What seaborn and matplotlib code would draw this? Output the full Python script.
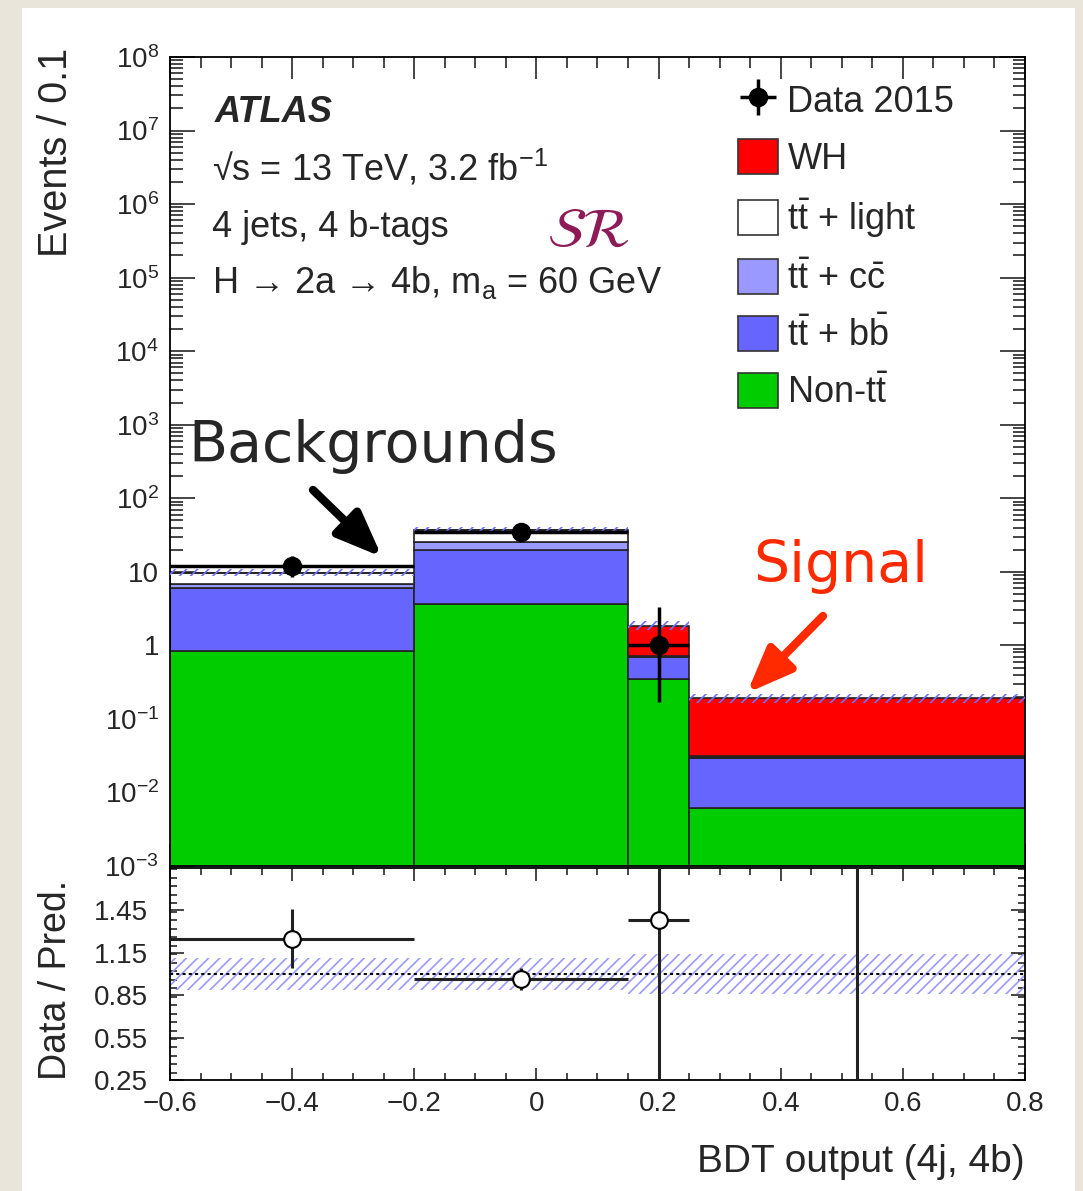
import numpy as np
import pandas as pd
import matplotlib
matplotlib.use("Agg")
import matplotlib.pyplot as plt
import seaborn as sns
from matplotlib.patches import Patch, Rectangle
from matplotlib.ticker import LogLocator, MultipleLocator, FixedLocator, FuncFormatter, NullFormatter

# bins of the BDT output
edges = [-0.6, -0.2, 0.15, 0.25, 0.8]
centers = [-0.4, -0.025, 0.2, 0.525]

# stacked predictions (events / 0.1)
wh = [0.02, 0.1, 1.13, 0.16]
tt_light = [3.0, 11.3, 0.01, 0.0005]
tt_cc = [0.7, 5.2, 0.015, 0.001]
tt_bb = [5.2, 16.5, 0.35, 0.0233]
non_tt = [0.85, 3.6, 0.35, 0.0062]
syst = [0.11, 0.11, 0.14, 0.14]

# data
data = [12, 35, 1, 0]
data_lo = [3.4, 5.9, 0.83, 0]
data_hi = [4.6, 7.0, 2.3, 1.84]

# ratio panel
ratio = [1.25, 0.965, 1.38, 0.0]
ratio_lo = [0.21, 0.08, 1.15, 0.0]
ratio_hi = [0.21, 0.08, 3.2, 5.0]

proc_order = ["WH", "light", "cc", "bb", "nontt"]
proc_vals = {"WH": wh, "light": tt_light, "cc": tt_cc, "bb": tt_bb, "nontt": non_tt}
proc_labels = {"WH": "WH", "light": r"t$\bar{\rm t}$ + light", "cc": r"t$\bar{\rm t}$ + c$\bar{\rm c}$",
               "bb": r"t$\bar{\rm t}$ + b$\bar{\rm b}$", "nontt": r"Non-t$\bar{\rm t}$"}
palette = {"WH": "#ff0000", "light": "#ffffff", "cc": "#9999ff", "bb": "#6666ff", "nontt": "#00cc00"}

sns.set_style("ticks")
plt.rcParams["font.family"] = ["Liberation Sans", "DejaVu Sans"]
plt.rcParams["mathtext.fontset"] = "custom"
plt.rcParams["mathtext.rm"] = "Liberation Sans"
plt.rcParams["mathtext.it"] = "Liberation Sans:italic"
plt.rcParams["mathtext.bf"] = "Liberation Sans:bold"
plt.rcParams["hatch.linewidth"] = 1.2

rows = []
for p in proc_order:
    for c, v in zip(centers, proc_vals[p]):
        rows.append({"x": c, "w": v, "process": p})
df = pd.DataFrame(rows)

W, H = 1083, 1191
fig = plt.figure(figsize=(W / 100, H / 100), dpi=100)
fig.patch.set_facecolor("#e9e5db")
fig.add_artist(Rectangle((22 / W, 0), (1075 - 22) / W, (H - 8) / H, transform=fig.transFigure,
                         facecolor="white", edgecolor="none", zorder=-5))

ax1 = fig.add_axes([170 / W, 1 - 866 / H, 855 / W, 809 / H])
ax2 = fig.add_axes([170 / W, 1 - 1080 / H, 855 / W, 212 / H])

sns.histplot(data=df, x="x", weights="w", hue="process", hue_order=proc_order, bins=edges,
             multiple="stack", element="bars", palette=palette, edgecolor="#222222",
             linewidth=1.2, alpha=1, shrink=1, legend=False, ax=ax1)
ax1.set_yscale("log")

total = np.sum([proc_vals[p] for p in proc_order], axis=0)
ax1.stairs(total * (1 + np.array(syst)), edges, baseline=total * (1 - np.array(syst)), fill=True,
           facecolor="none", edgecolor="#7070ff", hatch="///", linewidth=0, zorder=3)

d = np.array(data, dtype=float)
m = d > 0
halfw = np.diff(edges) / 2
cx = np.array(centers)
eb = ax1.errorbar(cx[m], d[m], yerr=[np.array(data_lo)[m], np.array(data_hi)[m]], xerr=halfw[m],
                  fmt="o", color="black", ms=13, elinewidth=2.5, capsize=0, zorder=5)

ax1.set_xlim(-0.6, 0.8)
ax1.set_ylim(1e-3, 1e8)
ax1.set_xlabel("")
ax1.set_ylabel("")
ax1.yaxis.set_major_locator(LogLocator(base=10, numticks=20))
ax1.yaxis.set_minor_locator(LogLocator(base=10, subs=np.arange(2, 10), numticks=100))
ax1.yaxis.set_minor_formatter(NullFormatter())


def logfmt(v, pos):
    n = int(round(np.log10(v)))
    if n == 0:
        return "1"
    if n == 1:
        return "10"
    return r"$10^{%d}$" % n


ax1.yaxis.set_major_formatter(FuncFormatter(logfmt))
ax1.xaxis.set_major_locator(MultipleLocator(0.2))
ax1.xaxis.set_minor_locator(MultipleLocator(0.05))
ax1.tick_params(which="both", direction="in", top=True, right=True, labelbottom=False,
                labelsize=20, width=1.2)
ax1.tick_params(axis="y", which="major", length=18, pad=8)
ax1.tick_params(axis="y", which="minor", length=9)
ax1.tick_params(axis="x", which="major", length=16)
ax1.tick_params(axis="x", which="minor", length=8)

handles = [eb] + [Patch(facecolor=palette[p], edgecolor="#333333", linewidth=1.2) for p in proc_order]
labels = ["Data 2015"] + [proc_labels[p] for p in proc_order]
fig.legend(handles, labels, loc="upper left", bbox_to_anchor=(738 / W, 1 - 82 / H), frameon=False,
           fontsize=26, handlelength=1.12, handleheight=1.12, labelspacing=0.53, handletextpad=0.25,
           borderpad=0, borderaxespad=0)

# ratio panel
ax2.stairs(1 + np.array(syst), edges, baseline=1 - np.array(syst), fill=True, facecolor="none",
           edgecolor="#9a9aff", hatch="///", linewidth=0, zorder=1)
ax2.axhline(1.0, color="black", linestyle=(0, (1.5, 1.5)), linewidth=1.5, zorder=2)
ax2.errorbar(cx, ratio, yerr=[ratio_lo, ratio_hi], xerr=halfw, fmt="o", mfc="white", mec="black",
             ecolor="#222222", ms=12, mew=1.5, elinewidth=2.2, capsize=0, zorder=4)
ax2.set_xlim(-0.6, 0.8)
ax2.set_ylim(0.25, 1.75)
ax2.yaxis.set_major_locator(FixedLocator([0.25, 0.55, 0.85, 1.15, 1.45]))
ax2.yaxis.set_minor_locator(MultipleLocator(0.06))
ax2.yaxis.set_major_formatter(FuncFormatter(lambda v, p: "%.2f" % v))
ax2.xaxis.set_major_locator(MultipleLocator(0.2))
ax2.xaxis.set_minor_locator(MultipleLocator(0.05))
ax2.xaxis.set_major_formatter(FuncFormatter(lambda v, p: ("%g" % round(v, 2)).replace("-", "\u2212")))
ax2.tick_params(which="both", direction="in", top=True, right=True, labelsize=20, width=1.2)
ax2.tick_params(axis="x", which="major", length=9, pad=8)
ax2.tick_params(axis="x", which="minor", length=5)
ax2.tick_params(axis="y", which="major", length=10, pad=16)
ax2.tick_params(axis="y", which="minor", length=5)

for ax in (ax1, ax2):
    for s in ax.spines.values():
        s.set_linewidth(1.3)
        s.set_color("black")

# axis titles
fig.text(56 / W, 1 - 48 / H, "Events / 0.1", rotation=90, ha="center", va="top", fontsize=28.5)
fig.text(56 / W, 1 - 980 / H, "Data / Pred.", rotation=90, ha="center", va="center", fontsize=27)
fig.text(1025 / W, 1 - 1172 / H, "BDT output (4j, 4b)", ha="right", va="baseline", fontsize=28)

# ATLAS labels
fig.text(215 / W, 1 - 122 / H, "ATLAS", fontsize=26, fontweight="bold", fontstyle="italic", va="baseline")
fig.text(212 / W, 1 - 180 / H, "\u221as = 13 TeV, 3.2 fb$^{-1}$", fontsize=26, va="baseline")
fig.text(212 / W, 1 - 237 / H, "4 jets, 4 b-tags", fontsize=26, va="baseline")
fig.text(212 / W, 1 - 293 / H, "H \u2192 2a \u2192 4b, m$_{\\rm a}$ = 60 GeV", fontsize=26,
         va="baseline")
fig.text(588 / W, 1 - 233 / H, r"$\mathcal{SR}$", fontsize=40, color="#8e1b57", ha="center", va="center",
         math_fontfamily="stix")

# hand-written notes
fig.text(188 / W, 1 - 462 / H, "Backgrounds", fontsize=41, family="DejaVu Sans", va="baseline")
fig.text(753 / W, 1 - 582 / H, "Signal", fontsize=41, family="DejaVu Sans", color="#ff2a00", va="baseline")
ax1.annotate("", xy=(382 / W, 1 - 557 / H), xytext=(313 / W, 1 - 490 / H), xycoords="figure fraction",
             arrowprops=dict(arrowstyle="-|>,head_length=0.55,head_width=0.22", lw=6, color="black",
                             mutation_scale=50, shrinkA=0, shrinkB=0))
ax1.annotate("", xy=(747 / W, 1 - 693 / H), xytext=(823 / W, 1 - 616 / H), xycoords="figure fraction",
             arrowprops=dict(arrowstyle="-|>,head_length=0.55,head_width=0.22", lw=6, color="#ff2a00",
                             mutation_scale=50, shrinkA=0, shrinkB=0))

fig.savefig("out.png", dpi=100, facecolor=fig.get_facecolor())
